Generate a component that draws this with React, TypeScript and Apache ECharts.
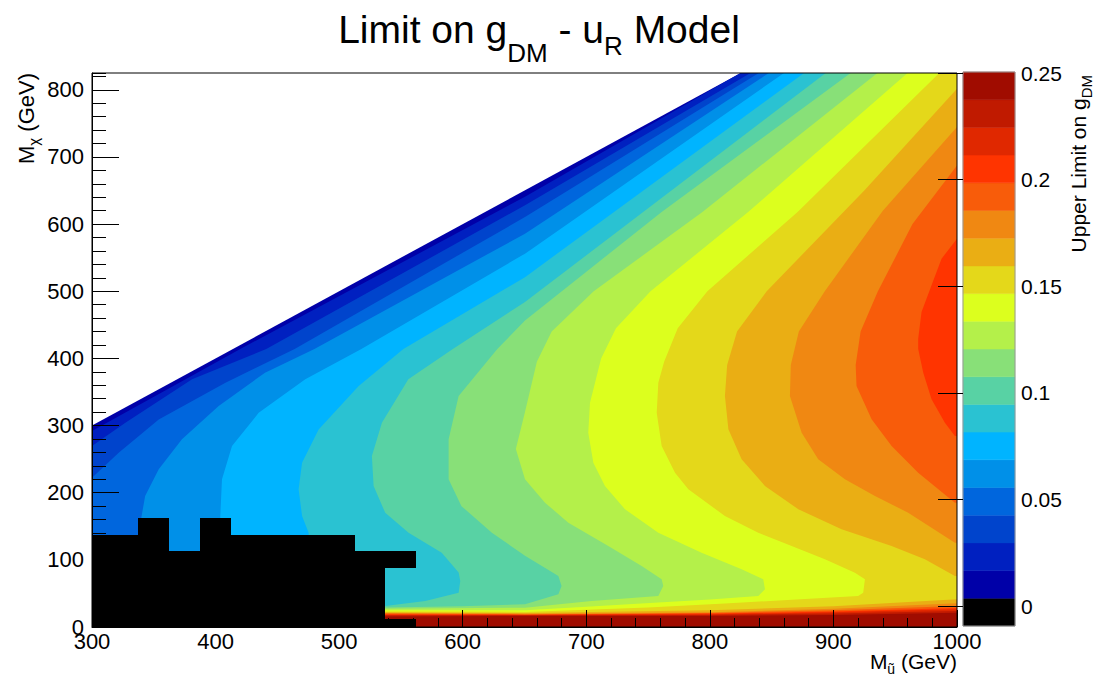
import React, { useEffect, useRef } from "react";
import * as echarts from "echarts";

const FONT = '"Liberation Sans", Arial, Helvetica, sans-serif';

// Palette of the 20 contour bands (band 0 = black, lowest)
const bandColors = [
  "#000000", "#0000A8", "#0020C0", "#0044CC", "#0066DD", "#0090E8", "#00B4FF",
  "#2AC2D2", "#58D2A4", "#88E078", "#B4F04A", "#DCFF1E", "#E4D81A", "#EAAE14",
  "#F08812", "#F85C0A", "#FF3400", "#E02800", "#C01A00", "#A00C00",
];

// Contour level edges on the z (colour) axis
const zLevels = [
  -0.0093, 0.00369, 0.01668, 0.02967, 0.04266, 0.05565, 0.06864, 0.08163, 0.09462,
  0.10761, 0.1206, 0.13359, 0.14658, 0.15957, 0.17256, 0.18555, 0.19854, 0.21153,
  0.22452, 0.23751, 0.2505,
];
const zTickValues = [0, 0.05, 0.1, 0.15, 0.2, 0.25];
const colorBands = [0, 1, 2, 3, 4, 5, 6, 7, 8, 9, 10, 11, 12, 13, 14, 15, 16, 17, 18, 19];

// Contour boundaries [M_u, M_chi], top to bottom.
// Everything to the right of boundary k has at least band k.
const contour01 = [[840, 840], [290, 290], [290, -10]];
const contour02 = [[825.7, 826], [650.4, 640.8], [420, 414], [300, 292], [290, 292], [290, -10]];
const contour03 = [[833.8, 826], [650.4, 628], [441, 414], [381, 368.8], [327, 304], [300, 269.5], [290, 262], [290, -10]];
const contour04 = [[840.5, 826], [650.4, 610.5], [464, 414], [408, 363.8], [354, 309], [321.6, 259.6], [300, 222.4], [290, 205], [290, -10]];
const contour05 = [[848.6, 826], [650.4, 585.7], [480, 414], [440, 378.7], [402.5, 329], [372.8, 279.5], [354, 234.8], [343, 195], [340, 163.8], [340, -10]];
const contour06 = [[860.8, 826], [650.4, 556], [518, 414], [472.6, 369], [434.9, 319], [413.3, 269.5], [405.2, 220], [403.8, 165], [404, -10]];
const contour07 = [[877, 826], [650.4, 521], [552, 414], [515.8, 359], [483.4, 294], [470, 244.7], [467.2, 205], [470, 165.3], [475.3, 140.5], [476, -10]];
const contour08 = [[894.5, 826], [650.4, 484], [592, 414], [556, 369], [534.6, 304], [526.5, 254.6], [527.9, 210], [537.3, 170], [556.2, 140.5], [583, 110.7], [596.7, 81], [598, 68.5], [596.7, 51], [569.7, 38.7], [537.3, 31.3], [530, 31], [530, -10]];
const contour09 = [[914.7, 826], [761, 618], [650.4, 456.6], [628, 414], [596.7, 344], [588.6, 279.5], [588.6, 220], [599, 180], [623.6, 140.5], [650.4, 106], [677.4, 76], [680, 61], [677.4, 48.6], [650.4, 34], [600, 31], [537, 29], [530, 29], [530, -10]];
const contour10 = [[936.3, 826], [794, 618], [706, 500], [672, 440], [660, 395], [650.4, 320], [643, 265], [650.4, 220], [666.6, 185.1], [685.5, 155.4], [717.8, 120.6], [744.8, 90.8], [761, 71], [762.3, 61.1], [758.3, 46.2], [704.3, 38.7], [650.4, 28.8], [537, 27], [530, 27], [530, -10]];
const contour11 = [[960.6, 826], [831, 618], [752, 500], [724, 445], [712, 400], [703, 334], [701.6, 289.4], [705.7, 244.7], [715.1, 210], [731.3, 175.2], [758.3, 140.5], [793.3, 110.7], [825.7, 85.9], [843.2, 71], [844.6, 56.1], [839.2, 46.2], [800, 41], [758.3, 36.3], [700, 30], [650.4, 25], [537, 25], [530, 25], [530, -10]];
const contour12 = [[986.2, 826], [871, 618], [798, 500], [774, 445], [763, 395], [758.3, 363.8], [757, 319.2], [761, 269.5], [771.8, 229.8], [782.6, 205], [812.2, 165.3], [839.2, 140.5], [866.2, 120.6], [893.1, 100.8], [917.4, 80.9], [925.5, 71], [924.1, 51.1], [920, 46.2], [870, 41], [812.2, 35], [750, 29], [650.4, 22.5], [537, 23], [530, 23], [530, -10]];
const contour13 = [[1000, 801.6], [925, 650], [846, 500], [822, 440], [814, 390], [812.2, 344], [815, 294.3], [825.7, 249.7], [844.6, 210], [871.6, 175.2], [906.6, 145.4], [947.1, 120.6], [974, 100.8], [998.3, 76], [1010, 76], [1010, 41.2], [1000, 41.2], [900, 31], [800, 25], [650.4, 20.8], [537, 22], [530, 22], [530, -10]];
const contour14 = [[1000, 744.5], [940, 620], [893, 500], [872, 440], [865.5, 390], [864.8, 344], [874.3, 289.4], [887.7, 249.7], [909.3, 219.9], [933.6, 195.1], [960.5, 170.2], [998.3, 125.6], [1010, 125.6], [1010, 35.3], [1000, 35.3], [900, 27], [800, 22], [650.4, 19.8], [537, 21], [530, 21], [530, -10]];
const contour15 = [[1000, 687.4], [964, 600], [936, 500], [922, 440], [918, 390], [918.7, 358.8], [930.9, 309.2], [947.1, 269.5], [968.6, 229.8], [998.3, 185], [1010, 185], [1010, 31.3], [1000, 31.3], [900, 25], [800, 21], [650.4, 18.8], [537, 20], [530, 20], [530, -10]];
const contour16 = [[1000, 578], [987.5, 548.5], [979.4, 508.8], [971.3, 469], [968.6, 429.4], [968.6, 414], [972.7, 378.7], [979.4, 339], [990.2, 304.3], [998.3, 284.4], [1010, 284.4], [1010, 28.3], [1000, 28.3], [900, 23], [800, 20], [650.4, 18.4], [537, 19], [530, 19], [530, -10]];
const contour17 = [[1010, 26.3], [1000, 26.3], [900, 22], [800, 19], [650.4, 17.9], [537, 18], [530, 18], [530, -10]];
const contour18 = [[1010, 23.8], [1000, 23.8], [900, 20], [800, 18], [650.4, 17.4], [537, 17], [530, 17], [530, -10]];
const contour19 = [[1010, 21.4], [1000, 21.4], [900, 18], [800, 16.5], [650.4, 16.4], [537, 15.5], [530, 15.5], [530, -10]];

const contourLevels = [1, 2, 3, 4, 5, 6, 7, 8, 9, 10, 11, 12, 13, 14, 15, 16, 17, 18, 19];
const contourPaths: number[][][] = [
  [], contour01, contour02, contour03, contour04, contour05, contour06, contour07, contour08,
  contour09, contour10, contour11, contour12, contour13, contour14, contour15, contour16,
  contour17, contour18, contour19,
];

// Bins with zero (excluded) value: [x0, x1, y0, y1]
const blackBins = [
  [300, 337.5, 0, 137.5],
  [337.5, 362.5, 0, 162.5],
  [362.5, 387.5, 0, 112.5],
  [387.5, 412.5, 0, 162.5],
  [412.5, 512.5, 0, 137.5],
  [512.5, 537.5, 0, 112.5],
  [537.5, 562.5, 87.5, 112.5],
  [537.5, 562.5, 0, 12.5],
];

type Piece = { t: string; size: number; dy: number; sp?: boolean };

const titlePieces: Piece[] = [
  { t: "Limit on g", size: 39, dy: 0 },
  { t: "DM", size: 26, dy: 19 },
  { t: "-", size: 39, dy: 0, sp: true },
  { t: "u", size: 39, dy: 0, sp: true },
  { t: "R", size: 26, dy: 12 },
  { t: "Model", size: 39, dy: 0, sp: true },
];
const yTitlePieces: Piece[] = [
  { t: "M", size: 22, dy: 0 },
  { t: "χ", size: 15, dy: 5 },
  { t: "(GeV)", size: 22, dy: 0, sp: true },
];
const xTitlePieces: Piece[] = [
  { t: "M", size: 21, dy: 0 },
  { t: "ũ", size: 14, dy: 5 },
  { t: "(GeV)", size: 21, dy: 0, sp: true },
];
const zTitlePieces: Piece[] = [
  { t: "Upper Limit on g", size: 21, dy: 0 },
  { t: "DM", size: 15, dy: 6 },
];

function textRun(ctx: CanvasRenderingContext2D, pieces: Piece[], anchor: "left" | "center" | "right") {
  const widths = pieces.map((p) => {
    ctx.font = `${p.size}px ${FONT}`;
    return ctx.measureText(p.t).width + (p.sp ? ctx.measureText(" ").width : 0);
  });
  const total = widths.reduce((a, b) => a + b, 0);
  let x = anchor === "center" ? -total / 2 : anchor === "right" ? -total : 0;
  return pieces.map((p, i) => {
    ctx.font = `${p.size}px ${FONT}`;
    const lead = p.sp ? ctx.measureText(" ").width : 0;
    const el = {
      type: "text",
      x: x + lead,
      y: p.dy - 0.3465 * p.size,
      style: {
        text: p.t,
        fontSize: p.size,
        fontFamily: FONT,
        fill: "#000",
        align: "left",
        verticalAlign: "middle",
      },
    };
    x += widths[i];
    return el;
  });
}

export default function App() {
  const ref = useRef<HTMLDivElement>(null);
  useEffect(() => {
    const el = ref.current!;
    const chart = echarts.init(el, null, { renderer: "svg" });
    const ctx = document.createElement("canvas").getContext("2d")!;

    const axisBlack = { color: "#000", width: 1 };

    const option: any = {
      animation: false,
      backgroundColor: "#fff",
      grid: [
        { left: 92, top: 73, width: 865, height: 554, show: true, borderColor: "#000", borderWidth: 1, z: 5, backgroundColor: "transparent" },
        { left: 963, top: 72, width: 52, height: 554, show: true, borderColor: "#999", borderWidth: 1, z: 5, backgroundColor: "transparent" },
      ],
      xAxis: [
        {
          gridIndex: 0, type: "value", min: 300, max: 1000, interval: 100, z: 10,
          axisLine: { show: true, onZero: false, lineStyle: axisBlack },
          axisTick: { show: true, inside: true, length: 17, lineStyle: axisBlack },
          minorTick: { show: true, splitNumber: 5, length: 9, lineStyle: axisBlack },
          axisLabel: { color: "#000", fontSize: 22, fontFamily: FONT, margin: 3, formatter: (v: number) => String(v) },
          splitLine: { show: false },
        },
        { gridIndex: 1, type: "value", min: 0, max: 1, show: false },
      ],
      yAxis: [
        {
          gridIndex: 0, type: "value", position: "left", offset: 0, min: 0, max: 825, interval: 100, z: 10,
          axisLine: { show: true, onZero: false, lineStyle: axisBlack },
          axisTick: { show: true, inside: true, length: 27, lineStyle: axisBlack },
          axisLabel: { color: "#000", fontSize: 22, fontFamily: FONT, margin: 8, showMaxLabel: false, formatter: (v: number) => String(v) },
          splitLine: { show: false },
        },
        {
          gridIndex: 0, type: "value", position: "left", offset: 0, min: 0, max: 825, interval: 20, z: 10,
          axisLine: { show: false },
          axisTick: { show: true, inside: true, length: 14, lineStyle: axisBlack },
          axisLabel: { show: false },
          splitLine: { show: false },
        },
        {
          gridIndex: 1, type: "value", position: "right", min: zLevels[0], max: zLevels[zLevels.length - 1], z: 10,
          axisLine: { show: false },
          axisTick: { show: true, inside: true, length: 25, customValues: zTickValues, lineStyle: axisBlack },
          axisLabel: { show: true, customValues: zTickValues, color: "#000", fontSize: 21, fontFamily: FONT, margin: 6, formatter: (v: number) => String(v) },
          splitLine: { show: false },
        },
      ],
      series: [
        {
          type: "custom",
          xAxisIndex: 0,
          yAxisIndex: 0,
          clip: true,
          silent: true,
          z: 2,
          data: contourLevels.map((k) => [k]),
          renderItem: (params: any, api: any) => {
            const k = contourLevels[params.dataIndex];
            const path = contourPaths[k];
            const first = path[0];
            const last = path[path.length - 1];
            const pts = path.map((p) => api.coord(p));
            pts.push(api.coord([1100, last[1]]));
            pts.push(api.coord([1100, first[1]]));
            return { type: "polygon", shape: { points: pts }, style: { fill: bandColors[k] } };
          },
        },
        {
          type: "custom",
          xAxisIndex: 0,
          yAxisIndex: 0,
          clip: true,
          silent: true,
          z: 3,
          data: blackBins,
          renderItem: (params: any, api: any) => {
            const p0 = api.coord([api.value(0), api.value(3)]);
            const p1 = api.coord([api.value(1), api.value(2)]);
            const x0 = Math.round(p0[0]);
            const y0 = Math.round(p0[1]);
            const x1 = Math.round(p1[0]);
            const y1 = Math.round(p1[1]);
            return {
              type: "rect",
              shape: { x: x0, y: y0, width: x1 - x0, height: y1 - y0 },
              style: { fill: "#000" },
            };
          },
        },
        {
          type: "custom",
          xAxisIndex: 1,
          yAxisIndex: 2,
          silent: true,
          z: 2,
          data: colorBands.map((b) => [b]),
          renderItem: (params: any, api: any) => {
            const b = colorBands[params.dataIndex];
            const p0 = api.coord([0, zLevels[b + 1]]);
            const p1 = api.coord([1, zLevels[b]]);
            return {
              type: "rect",
              shape: { x: p0[0], y: p0[1], width: p1[0] - p0[0], height: p1[1] - p0[1] },
              style: { fill: bandColors[b], stroke: bandColors[b], lineWidth: 0.5 },
            };
          },
        },
      ],
      graphic: [
        { type: "group", x: 539, y: 43, children: textRun(ctx, titlePieces, "center") },
        { type: "group", x: 34, y: 73, rotation: Math.PI / 2, children: textRun(ctx, yTitlePieces, "right") },
        { type: "group", x: 957, y: 669, children: textRun(ctx, xTitlePieces, "right") },
        { type: "group", x: 1086, y: 75, rotation: Math.PI / 2, children: textRun(ctx, zTitlePieces, "right") },
      ],
    };
    chart.setOption(option);
    return () => chart.dispose();
  }, []);
  return (
    <div
      ref={ref}
      style={{ position: "fixed", left: 0, top: 0, width: 1109, height: 677, background: "#fff" }}
    />
  );
}
